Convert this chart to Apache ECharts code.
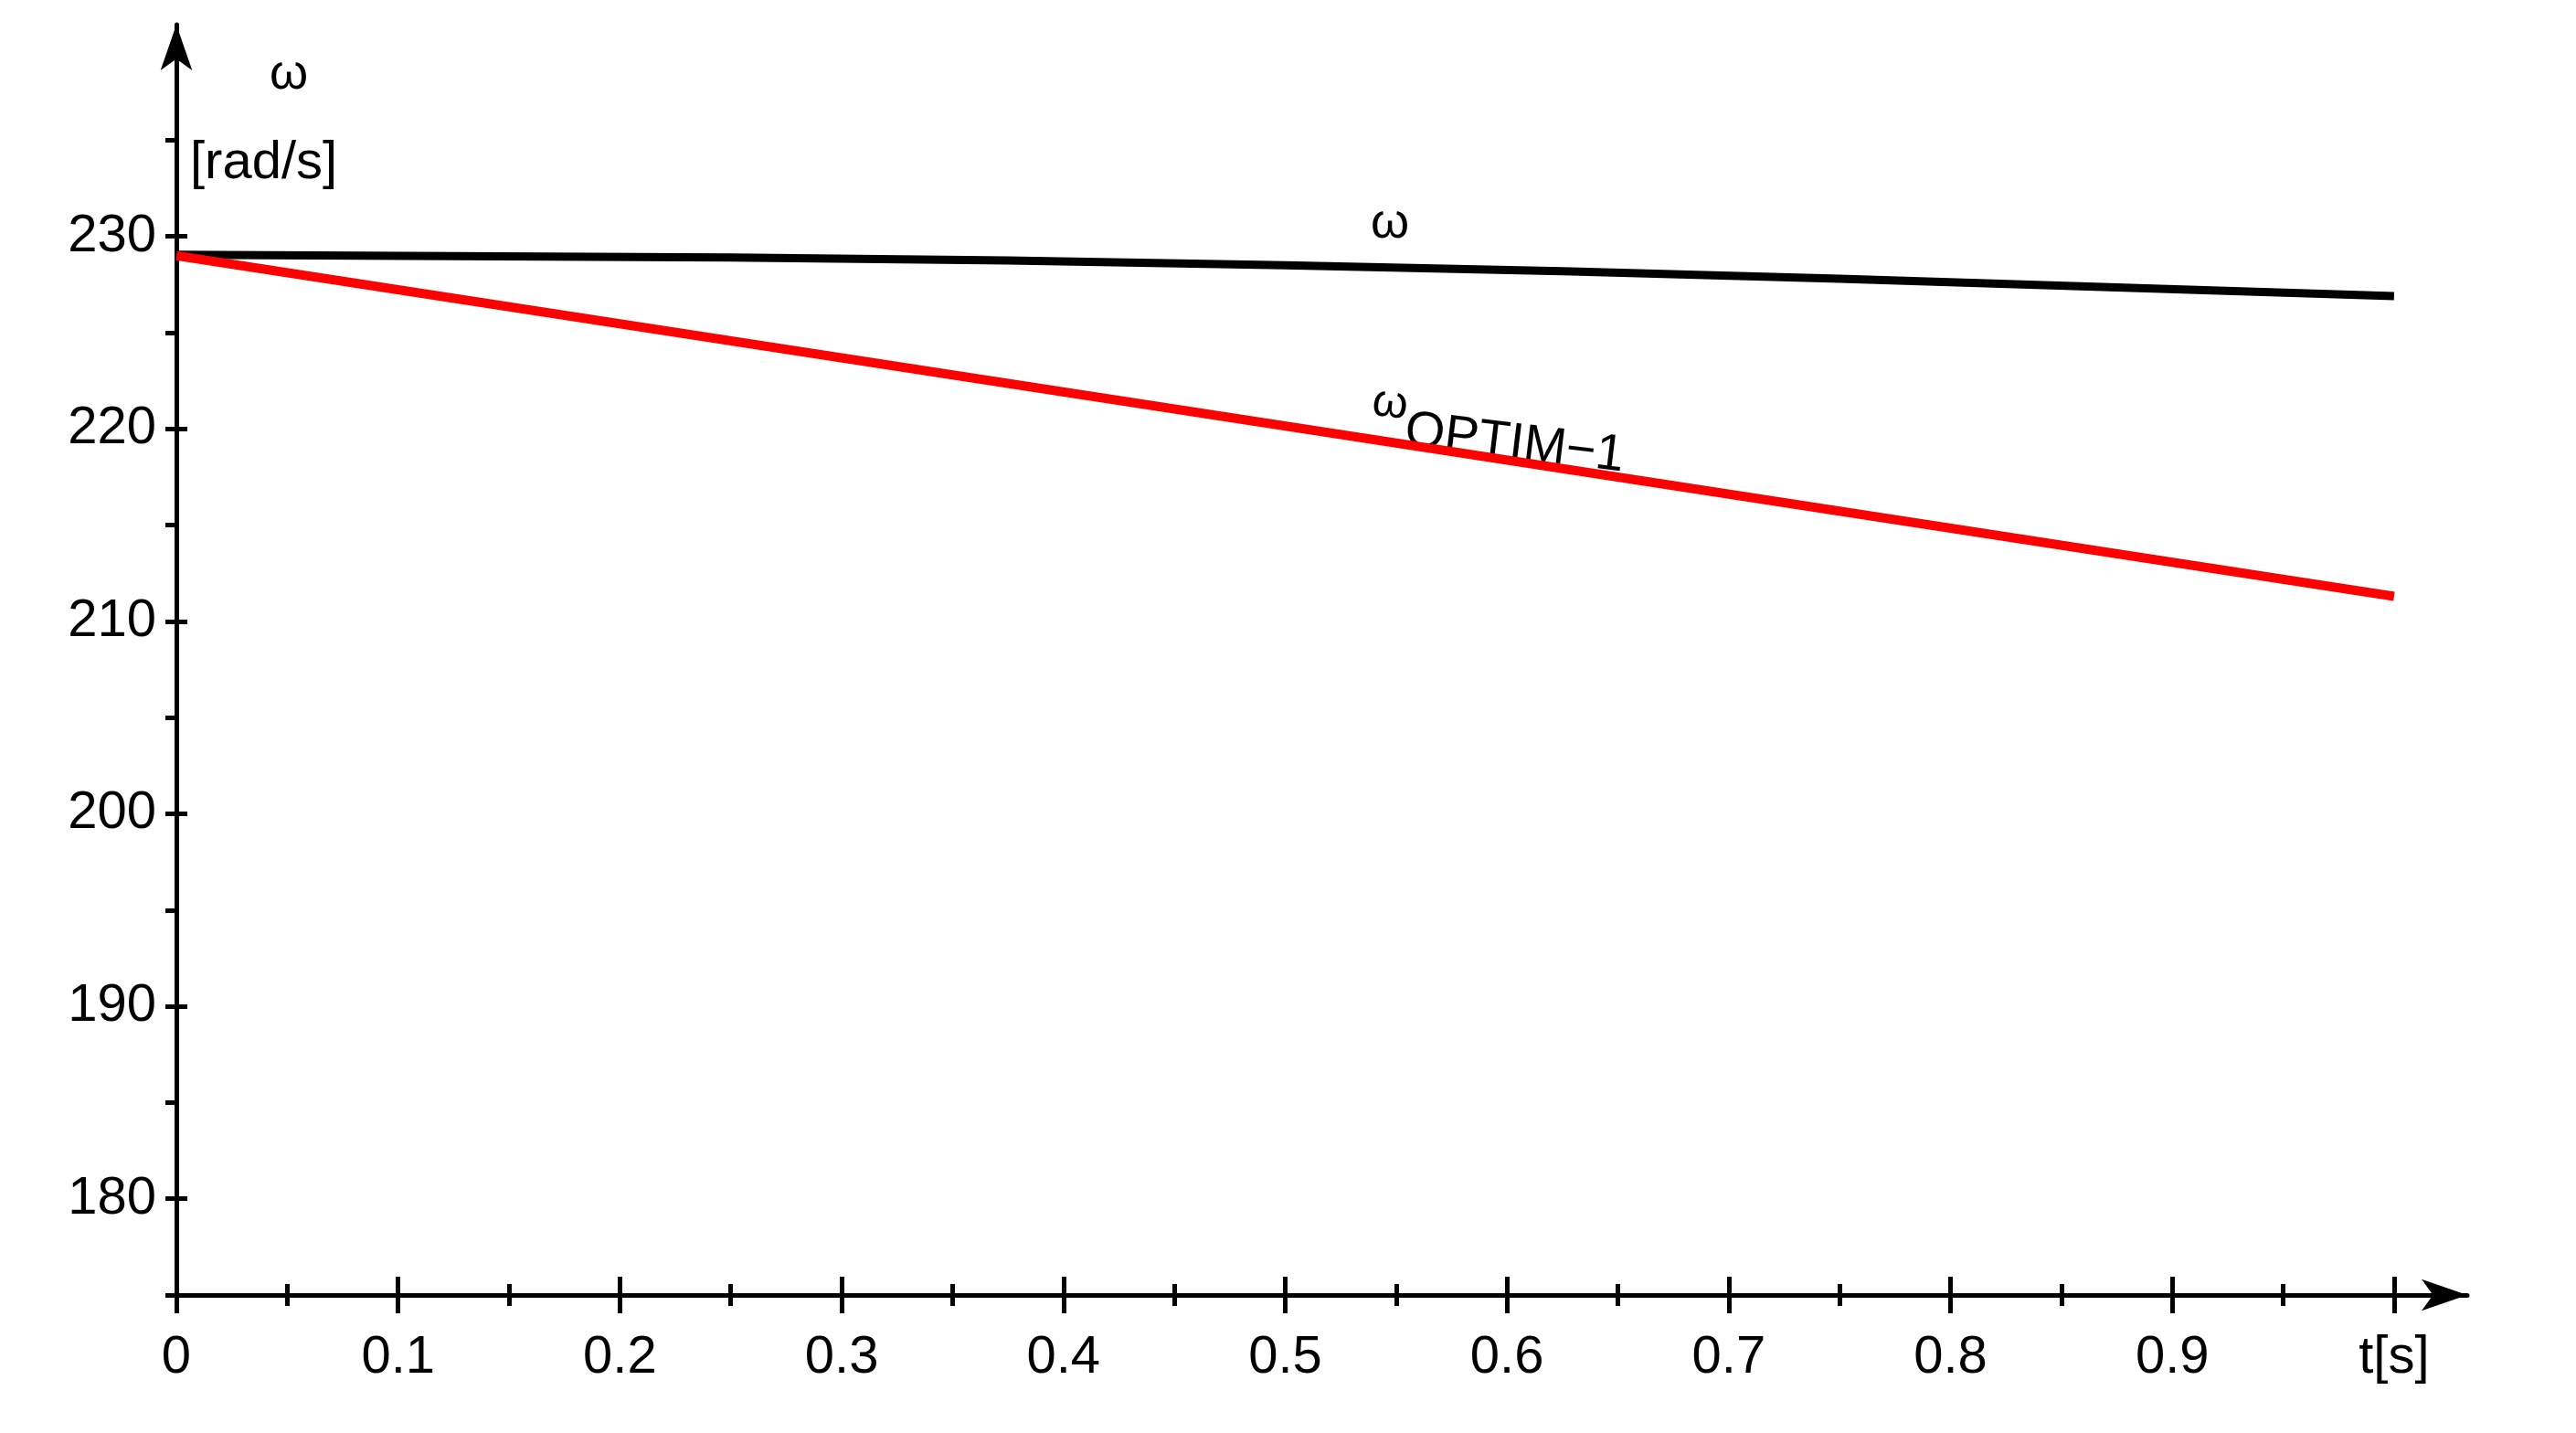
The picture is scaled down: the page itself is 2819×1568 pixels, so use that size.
<!DOCTYPE html>
<html>
<head>
<meta charset="utf-8">
<script src="https://cdn.jsdelivr.net/npm/echarts@6/dist/echarts.min.js"></script>
</head>
<body style="margin:0;background:#fff;">
<div id="container" style="width:2819px;height:1568px;"></div>
<script>
// data
var tOmega = [0, 0.25, 0.5, 0.75, 1.0];
var omega = [229.05, 228.9, 228.5, 227.8, 226.9];
var tOptim = [0, 1.0];
var omegaOptim = [229.0, 211.3];
var xMajor = [0, 0.1, 0.2, 0.3, 0.4, 0.5, 0.6, 0.7, 0.8, 0.9, 1.0];
var xMinor = [0.05, 0.15, 0.25, 0.35, 0.45, 0.55, 0.65, 0.75, 0.85, 0.95];
var yMajor = [180, 190, 200, 210, 220, 230];
var yMinor = [175, 185, 195, 205, 215, 225, 235];

var font = 'Liberation Sans';
var xMin = 0, xMax = 1.033, yMin = 175, yMax = 241;

function pairs(xs, ys) {
	var out = [];
	for (var i = 0; i < xs.length; i++) out.push([xs[i], ys[i]]);
	return out;
}

function xAx(ticks, len, inside, main) {
	return {
		type: 'value', min: xMin, max: xMax, position: 'bottom',
		splitLine: {show: false},
		axisLine: main ? {show: true, symbol: ['none', 'arrow'], symbolSize: [26, 50], lineStyle: {color: '#000', width: 5}} : {show: false},
		axisTick: {show: true, customValues: ticks, length: len, inside: inside, lineStyle: {color: '#000', width: 5}},
		axisLabel: main ? {
			show: true, customValues: xMajor, margin: 40, fontSize: 58, color: '#000', fontFamily: font,
			formatter: function (v) { return v >= 0.999 ? 't[s]' : (Math.round(v * 10) / 10).toString(); }
		} : {show: false}
	};
}
function yAx(ticks, len, inside, main) {
	return {
		type: 'value', min: yMin, max: yMax, position: 'left',
		splitLine: {show: false},
		axisLine: main ? {show: true, symbol: ['none', 'arrow'], symbolSize: [26, 50], lineStyle: {color: '#000', width: 5}} : {show: false},
		axisTick: {show: true, customValues: ticks, length: len, inside: inside, lineStyle: {color: '#000', width: 5}},
		axisLabel: main ? {show: true, customValues: yMajor, margin: 22, fontSize: 58, color: '#000', fontFamily: font} : {show: false}
	};
}

var chart = echarts.init(document.getElementById('container'));
chart.setOption({
	backgroundColor: '#fff',
	animation: false,
	grid: {left: 193, right: 119, top: 27, bottom: 151},
	xAxis: [
		xAx(xMajor, 20, false, true),
		xAx(xMajor, 20, true, false),
		xAx(xMinor, 12, false, false),
		xAx(xMinor, 12, true, false)
	],
	yAxis: [
		yAx(yMajor, 12, false, true),
		yAx(yMajor, 12, true, false),
		yAx(yMinor, 12, false, false),
		yAx(yMinor, 0, true, false)
	],
	series: [
		{type: 'line', data: pairs(tOmega, omega), smooth: true, symbol: 'none', lineStyle: {color: '#000', width: 9}},
		{type: 'line', data: pairs(tOptim, omegaOptim), symbol: 'none', lineStyle: {color: '#ff0000', width: 10}}
	],
	graphic: [
		{type: 'text', left: 295, top: 55, style: {text: 'ω', font: '54px "Liberation Sans"', fill: '#000'}},
		{type: 'text', left: 208, top: 150, style: {text: '[rad/s]', font: '58px "Liberation Sans"', fill: '#000'}},
		{type: 'text', left: 1500, top: 218, style: {text: 'ω', font: '54px "Liberation Sans"', fill: '#000'}},
		{type: 'text', x: 1505, y: 415, rotation: -0.12, style: {
			text: '{a|ω}{b|OPTIM−1}', fill: '#000',
			rich: {a: {fontSize: 50, fontFamily: font, verticalAlign: 'top'}, b: {fontSize: 56, fontFamily: font, padding: [24, 0, 0, 0]}}
		}}
	]
});
</script>
</body>
</html>
